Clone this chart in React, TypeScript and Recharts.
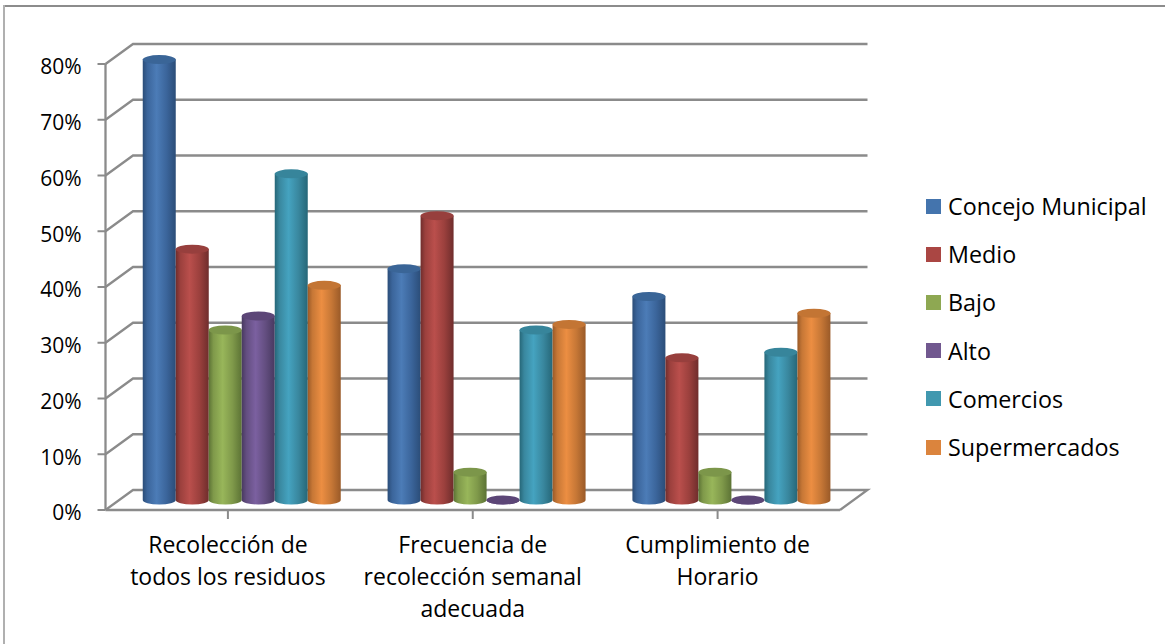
import { Bar, BarChart, CartesianGrid, Legend, XAxis, YAxis } from "recharts";

const categories = ["Recolección de todos los residuos", "Frecuencia de recolección semanal adecuada", "Cumplimiento de Horario"];
const categoryLines = [
  ["Recolección de", "todos los residuos"],
  ["Frecuencia de", "recolección semanal", "adecuada"],
  ["Cumplimiento de", "Horario"],
];
const seriesNames = ["Concejo Municipal", "Medio", "Bajo", "Alto", "Comercios", "Supermercados"];
const concejo = [0.79, 0.415, 0.365];
const medio = [0.45, 0.51, 0.255];
const bajo = [0.305, 0.05, 0.05];
const alto = [0.33, 0, 0];
const comercios = [0.585, 0.305, 0.265];
const supermercados = [0.385, 0.315, 0.335];
const seriesValues = [concejo, medio, bajo, alto, comercios, supermercados];
const yTicks = [0, 0.1, 0.2, 0.3, 0.4, 0.5, 0.6, 0.7, 0.8];

// legend swatch, then cylinder shading: edge, side, highlight, cap
const swatches = ["#4474ad", "#aa4643", "#8ea852", "#71588f", "#4198af", "#db843d"];
const edges = ["#2b4d78", "#6f2d2c", "#5c7335", "#483960", "#266778", "#9a5a28"];
const sides = ["#3b659b", "#9b403d", "#7f994a", "#634e80", "#39879e", "#c67736"];
const highlights = ["#4c7cb7", "#ba4f4c", "#98b65a", "#7b60a0", "#45a3c0", "#ec8e42"];
const caps = ["#3a6597", "#973f3d", "#7c964a", "#5c4677", "#37859b", "#c37534"];

const tableRows = categories.map((name, i) => {
  const row: Record<string, string | number> = { name };
  seriesNames.forEach((s, k) => {
    row[s] = seriesValues[k][i];
  });
  return row;
});

// 3D wall offset between the front axis plane and the back wall
const DEPTH_X = 27.5;
const DEPTH_Y = 20;
const AXIS_GREY = "#8b8b8b";
const FONT = "'Open Sans', sans-serif";

function WallLine(props: any) {
  const { x1, x2, y1, y, height } = props;
  const isFloor = Math.abs(y1 - (y + height)) < 1;
  const d = `M${x1},${y1}L${x1 + DEPTH_X},${y1 - DEPTH_Y}L${x2 + DEPTH_X},${y1 - DEPTH_Y}` + (isFloor ? `L${x2},${y1}` : "");
  return <path key={y1} d={d} fill="none" stroke={AXIS_GREY} strokeWidth={2.3} />;
}

function Cylinder(props: any) {
  const { x, y, width, height, index } = props;
  const s = props.seriesIndex as number;
  const rx = width / 2;
  const ry = 4.5;
  const left = x + DEPTH_X / 2 + 0.5;
  const top = y - DEPTH_Y / 2;
  const base = top + height;
  return (
    <g key={index}>
      <path
        d={`M${left},${top}L${left},${base}A${rx},${ry} 0 0 0 ${left + width},${base}L${left + width},${top}Z`}
        fill={`url(#cyl${s})`}
      />
      <ellipse cx={left + rx} cy={top} rx={rx} ry={ry} fill={caps[s]} />
    </g>
  );
}

function CategoryTick({ x, y, index }: any) {
  const lines = categoryLines[index] ?? [];
  return (
    <text x={x} y={y} textAnchor="middle" fontFamily={FONT} fontSize={23} fill="#000">
      {lines.map((line, i) => (
        <tspan key={line} x={x} dy={32}>
          {line}
        </tspan>
      ))}
    </text>
  );
}

function SeriesLegend({ payload }: any) {
  return (
    <div style={{ fontFamily: FONT, fontSize: 23.3, color: "#000" }}>
      {(payload ?? []).map((item: any) => (
        <div key={item.value} style={{ display: "flex", alignItems: "center", height: 48.2 }}>
          <span style={{ width: 15, height: 15, marginRight: 7, background: item.color }} />
          <span>{item.value}</span>
        </div>
      ))}
    </div>
  );
}

export default function App() {
  return (
    <div style={{ position: "absolute", left: 0, top: 0, width: 1165, height: 644, background: "#fff", overflow: "hidden" }}>
      {/* chart frame: only the top and left edges fall inside the canvas */}
      <div style={{ position: "absolute", left: 4, top: 5, right: 0, height: 2, background: "#8c8c8c" }} />
      <div style={{ position: "absolute", left: 3, top: 5, bottom: 0, width: 2, background: "#b0b0b0" }} />
      <BarChart
        width={1165}
        height={644}
        data={tableRows}
        margin={{ top: 64, right: 325, bottom: 74, left: 25.5 }}
        barSize={33}
        barGap={0}
        barCategoryGap={24}
      >
        <defs>
          {seriesNames.map((_, s) => (
            <linearGradient key={s} id={`cyl${s}`} x1="0" y1="0" x2="1" y2="0">
              <stop offset="0" stopColor={edges[s]} />
              <stop offset="0.14" stopColor={sides[s]} />
              <stop offset="0.42" stopColor={highlights[s]} />
              <stop offset="0.72" stopColor={sides[s]} />
              <stop offset="1" stopColor={edges[s]} />
            </linearGradient>
          ))}
        </defs>
        <CartesianGrid vertical={false} horizontal={(p: any) => <WallLine {...p} />} />
        <XAxis
          dataKey="name"
          height={60}
          interval={0}
          tick={<CategoryTick />}
          tickSize={9}
          axisLine={{ stroke: AXIS_GREY, strokeWidth: 2.3 }}
          tickLine={{ stroke: AXIS_GREY, strokeWidth: 2 }}
        />
        <YAxis
          width={80}
          domain={[0, 0.8]}
          ticks={yTicks}
          tickFormatter={(v: number) => `${Math.round(v * 100)}%`}
          tickSize={8}
          tickMargin={16}
          tick={{ fontFamily: FONT, fontSize: 21, fill: "#000", dy: 3 }}
          axisLine={{ stroke: AXIS_GREY, strokeWidth: 2.3 }}
          tickLine={{ stroke: AXIS_GREY, strokeWidth: 2 }}
        />
        {seriesNames.map((name, s) => (
          <Bar
            key={name}
            dataKey={name}
            name={name}
            fill={swatches[s]}
            isAnimationActive={false}
            shape={(p: any) => <Cylinder {...p} seriesIndex={s} />}
          />
        ))}
        <Legend
          layout="horizontal"
          verticalAlign="middle"
          itemSorter={null}
          wrapperStyle={{ position: "absolute", left: 926, top: 182, width: 239 }}
          content={<SeriesLegend />}
        />
      </BarChart>
    </div>
  );
}
